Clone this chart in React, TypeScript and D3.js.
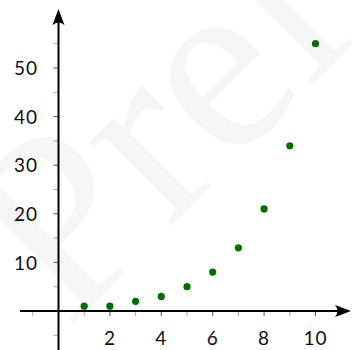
import React from "react";
import * as d3 from "d3";

const xValues = [1, 2, 3, 4, 5, 6, 7, 8, 9, 10];
const yValues = [1, 1, 2, 3, 5, 8, 13, 21, 34, 55];
const xTickLabels = [2, 4, 6, 8, 10];
const yTickLabels = [10, 20, 30, 40, 50];
const xMinorTicks = [-1, 1, 2, 3, 4, 5, 6, 7, 8, 9, 10, 11];
const yMinorTicks = [-5, 5, 10, 15, 20, 25, 30, 35, 40, 45, 50, 55];
const watermark = "Preliminary";

const W = 352;
const H = 350;

export default function App() {
  const x = d3.scaleLinear().domain([0, 10]).range([58.5, 315.5]);
  const y = d3.scaleLinear().domain([0, 50]).range([311, 68]);
  const x0 = x(0);
  const y0 = y(0);
  const font = "Lato, 'Open Sans', sans-serif";

  return (
    <svg
      width={W}
      height={H}
      style={{ position: "absolute", left: 0, top: 0, background: "#fff" }}
    >
      <text
        transform="translate(68,329) rotate(-45)"
        fontFamily="'Liberation Serif', 'Times New Roman', serif"
        fontSize={255}
        fill="#f6f6f6"
      >
        {watermark}
      </text>

      {xMinorTicks.map((t) => (
        <line
          key={"xt" + t}
          x1={x(t)}
          x2={x(t)}
          y1={y0}
          y2={y0 + 5}
          stroke={t % 2 === 0 ? "#555" : "#aaa"}
          strokeWidth={1}
        />
      ))}
      {yMinorTicks.map((t) => (
        <line
          key={"yt" + t}
          x1={x0 - 5}
          x2={x0}
          y1={y(t)}
          y2={y(t)}
          stroke={t % 10 === 0 ? "#555" : "#aaa"}
          strokeWidth={1}
        />
      ))}

      <line x1={20} x2={345} y1={y0} y2={y0} stroke="#000" strokeWidth={2} />
      <line x1={x0} x2={x0} y1={350} y2={16} stroke="#000" strokeWidth={2} />
      <path
        d={`M${x0},9 L${x0 + 6},25 Q${x0},20 ${x0 - 6},25 Z`}
        fill="#000"
      />
      <path
        d={`M351,${y0} L335,${y0 - 6} Q340,${y0} 335,${y0 + 6} Z`}
        fill="#000"
      />

      {yTickLabels.map((t) => (
        <text
          key={"yl" + t}
          x={38}
          y={y(t)}
          dy="0.38em"
          textAnchor="end"
          fontFamily={font}
          fontSize={19}
          letterSpacing={1}
          fill="#111"
        >
          {t}
        </text>
      ))}
      {xTickLabels.map((t) => (
        <text
          key={"xl" + t}
          x={x(t)}
          y={345}
          textAnchor="middle"
          fontFamily={font}
          fontSize={19}
          letterSpacing={1}
          fill="#111"
        >
          {t}
        </text>
      ))}

      {xValues.map((v, i) => (
        <circle
          key={"p" + i}
          cx={x(v)}
          cy={y(yValues[i])}
          r={3.6}
          fill="#007000"
        />
      ))}
    </svg>
  );
}
